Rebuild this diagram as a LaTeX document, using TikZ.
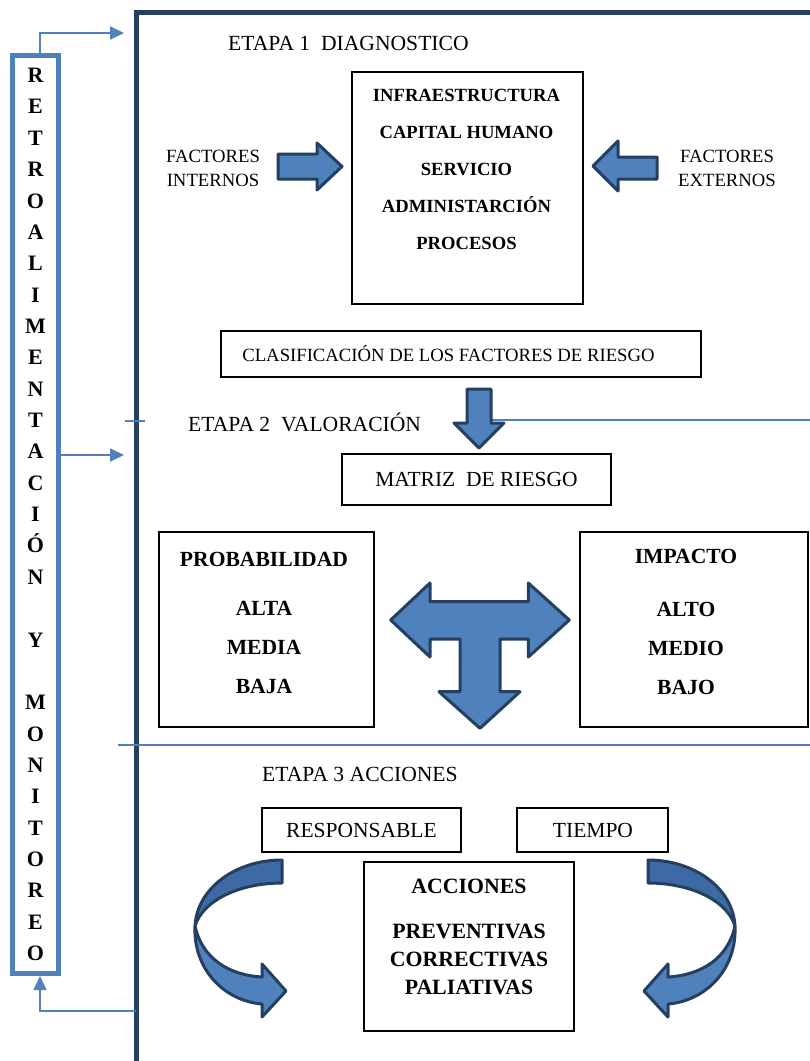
\documentclass[tikz,border=0pt]{standalone}
\usepackage{fontspec}
\setmainfont{Liberation Serif}
\usetikzlibrary{arrows.meta}
\definecolor{fbblue}{HTML}{4F81BD}
\definecolor{navy}{HTML}{243F60}
\definecolor{ribbondark}{HTML}{3D6AA5}
\begin{document}
\begin{tikzpicture}[x=1pt,y=-1pt,
  sm/.style={inner sep=0pt, font=\fontsize{18.7}{24}\selectfont, align=center},
  lg/.style={inner sep=0pt, font=\fontsize{21.5}{25}\selectfont, align=center},
  stage/.style={inner sep=0pt, anchor=west, font=\fontsize{21.6}{25}\selectfont},
  box/.style={draw=black, line width=1.6pt, inner sep=0pt, rectangle},
  blockarrow/.style={fill=fbblue, draw=navy, line width=3pt, line join=round},
  ribbonA/.style={fill=ribbondark, draw=navy, line width=3pt, line join=round},
  ribbonB/.style={fill=fbblue, draw=navy, line width=3pt, line join=round},
  fb/.style={draw=fbblue, line width=1.8pt, -{Triangle[length=14pt,width=13pt]}},
  sep/.style={draw=fbblue, line width=2pt},
  frame/.style={draw=navy, line width=5pt},
]
\useasboundingbox (0,0) rectangle (810,1061);

% main frame
\draw[frame] (136.5,1061) -- (136.5,12) -- (812,12);

% separator lines
\draw[sep] (125,421) -- (145,421);
\draw[sep] (491,420) -- (810,420);
\draw[sep] (118,745) -- (810,745);

% feedback box
\node[draw=fbblue, line width=5pt, minimum width=46pt, minimum height=918pt, inner sep=0pt,
      font=\fontsize{22}{31.36}\selectfont\bfseries, align=center] (retro) at (35.5,514.5)
  {R\\E\\T\\R\\O\\A\\L\\I\\M\\E\\N\\T\\A\\C\\I\\Ó\\N\\\mbox{}\\Y\\\mbox{}\\M\\O\\N\\I\\T\\O\\R\\E\\O};

% feedback connectors
\coordinate (t0) at (40,33);
\coordinate (t1) at (124,33);
\draw[fb] (retro.north -| t0) -- (t0) -- (t1);
\coordinate (m1) at (124,455);
\draw[fb] (retro.east |- m1) -- (m1);
\coordinate (b0) at (136,1011);
\coordinate (b1) at (40,1011);
\draw[fb] (b0) -- (b1) -- (retro.south -| b1);

% stage 1
\node[stage] (etapa1) at (228,43) {ETAPA 1~~DIAGNOSTICO};
\node[box, minimum width=231pt, minimum height=232pt] (diagbox) at (467.5,188) {};
\node[sm, font=\fontsize{18.6}{37}\selectfont\bfseries] (diagtext) at (466.5,169)
  {INFRAESTRUCTURA\\CAPITAL HUMANO\\SERVICIO\\ADMINISTARCIÓN\\PROCESOS};
\node[sm] (fint) at (213,168) {FACTORES\\INTERNOS};
\node[sm] (fext) at (727,168) {FACTORES\\EXTERNOS};
\draw[blockarrow] (278,154) -- (317,154) -- (317,143) -- (342,166.5) -- (317,190) -- (317,179) -- (278,179) -- cycle;
\draw[blockarrow] (657,157) -- (618,157) -- (618,141) -- (593,166) -- (618,191) -- (618,179) -- (657,179) -- cycle;

\node[box, minimum width=480pt, minimum height=46pt] (clasbox) at (461,354) {};
\node[sm] (clastext) at (448.5,354) {CLASIFICACIÓN DE LOS FACTORES DE RIESGO};

% down arrow
\draw[blockarrow] (467,389) -- (491,389) -- (491,423) -- (504,423) -- (479,448) -- (454,423) -- (467,423) -- cycle;

% stage 2
\node[stage] (etapa2) at (188,422) {ETAPA 2~~VALORACIÓN};
\node[box, minimum width=269pt, minimum height=51pt] (matbox) at (476.5,479.5) {};
\node[lg] (mattext) at (476.5,479) {MATRIZ~~DE RIESGO};

\node[box, line width=2pt, minimum width=215pt, minimum height=195pt] (probbox) at (266.5,629.5) {};
\node[lg, font=\fontsize{21.6}{25}\selectfont\bfseries] (probtitle) at (264,559) {PROBABILIDAD};
\node[lg, font=\fontsize{21.6}{39}\selectfont\bfseries] (problist) at (264,647) {ALTA\\MEDIA\\BAJA};

\node[box, line width=2pt, minimum width=228pt, minimum height=195pt] (impbox) at (694,629.5) {};
\node[lg, font=\fontsize{21.6}{25}\selectfont\bfseries] (imptitle) at (686,556) {IMPACTO};
\node[lg, font=\fontsize{21.6}{39}\selectfont\bfseries] (implist) at (686,648) {ALTO\\MEDIO\\BAJO};

% T arrow
\draw[blockarrow] (390.7,620) -- (430,583) -- (430,601.7) -- (528.3,601.7) -- (528.3,583) -- (569.3,620)
  -- (528.3,657) -- (528.3,639) -- (500,639) -- (500,691.7) -- (520,691.7) -- (480,728.3)
  -- (439,691.7) -- (460,691.7) -- (460,639) -- (430,639) -- (430,657) -- cycle;

% stage 3
\node[stage] (etapa3) at (262,774) {ETAPA 3 ACCIONES};
\node[box, minimum width=199pt, minimum height=44pt] (respbox) at (361.5,830) {};
\node[lg] (resptext) at (361.5,830) {RESPONSABLE};
\node[box, minimum width=151pt, minimum height=44pt] (tiempobox) at (592.5,830) {};
\node[lg] (tiempotext) at (593,830) {TIEMPO};

\node[box, line width=2pt, minimum width=210pt, minimum height=169pt] (accbox) at (469,946.5) {};
\node[lg, font=\fontsize{21.8}{25}\selectfont\bfseries] (acctitle) at (469,886) {ACCIONES};
\node[lg, font=\fontsize{21.8}{28}\selectfont\bfseries] (acclist) at (469,959) {PREVENTIVAS\\CORRECTIVAS\\PALIATIVAS};

% curved arrows
\draw[ribbonA] (282,860) .. controls (236,860) and (197,888) .. (195,926)
  .. controls (203,900) and (240,883) .. (282,883) -- cycle;
\draw[ribbonB] (195,926) .. controls (193,970) and (225,1001) .. (262,1004) -- (262,1017) -- (286,991)
  -- (262,964) -- (262,977) .. controls (228,975) and (202,958) .. (195,926) -- cycle;
\begin{scope}[xshift=930pt, xscale=-1]
\draw[ribbonA] (282,860) .. controls (236,860) and (197,888) .. (195,926)
  .. controls (203,900) and (240,883) .. (282,883) -- cycle;
\draw[ribbonB] (195,926) .. controls (193,970) and (225,1001) .. (262,1004) -- (262,1017) -- (286,991)
  -- (262,964) -- (262,977) .. controls (228,975) and (202,958) .. (195,926) -- cycle;
\end{scope}
\end{tikzpicture}
\end{document}
